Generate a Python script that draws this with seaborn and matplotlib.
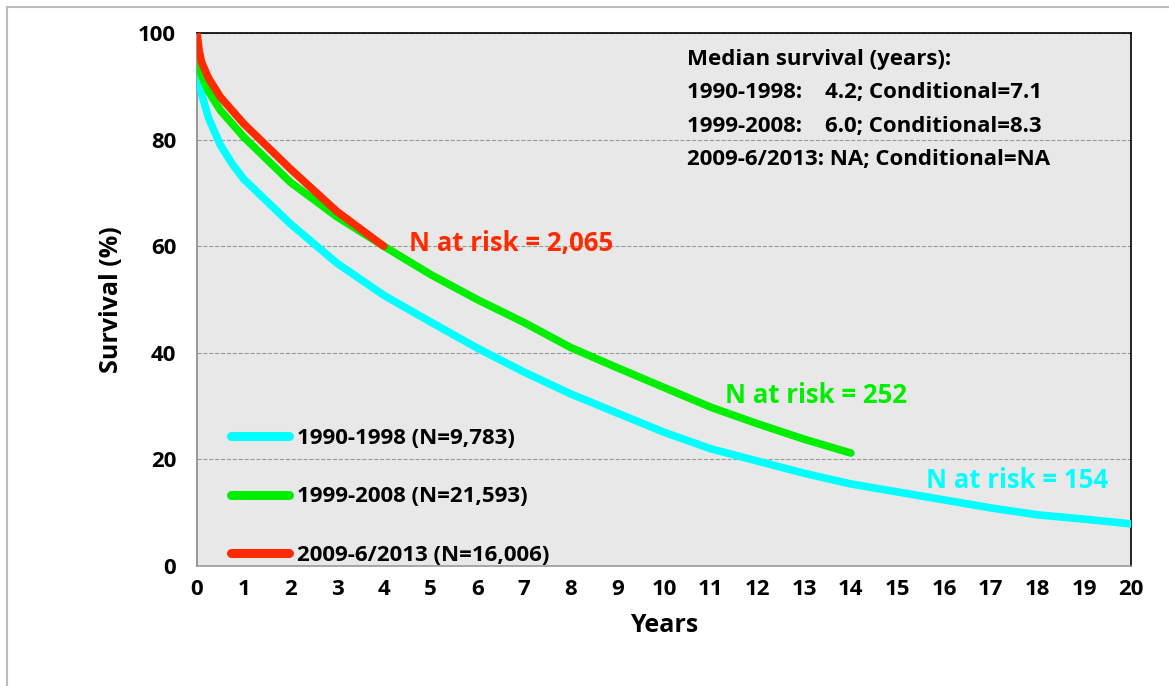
import matplotlib
matplotlib.use("Agg")
import matplotlib.pyplot as plt
import seaborn as sns
import pandas as pd
from matplotlib.patches import Rectangle

# survival curves (years, % surviving)
years_90 = [0, 0.1, 0.25, 0.5, 0.75, 1, 2, 3, 4, 5, 6, 7, 8, 9, 10, 11, 12, 13, 14, 15, 16, 17, 18, 19, 20]
surv_90 = [92, 88.5, 84, 79, 75.5, 72.6, 64.2, 56.8, 50.8, 45.8, 40.9, 36.4, 32.3, 28.7, 25.1, 22, 19.7, 17.4, 15.4, 13.9, 12.4, 10.9, 9.6, 8.8, 7.9]

years_99 = [0, 0.1, 0.25, 0.5, 0.75, 1, 2, 3, 4, 5, 6, 7, 8, 9, 10, 11, 12, 13, 14]
surv_99 = [95, 92, 89, 85.5, 83, 80.5, 72, 65.5, 60, 54.7, 50, 45.7, 41, 37.2, 33.5, 29.8, 26.7, 23.8, 21.2]

years_09 = [0, 0.05, 0.1, 0.25, 0.5, 0.75, 1, 2, 3, 4]
surv_09 = [100, 96.5, 94.5, 91.5, 88, 85.5, 83, 74.5, 66.5, 60]

labels = ["1990-1998 (N=9,783)", "1999-2008 (N=21,593)", "2009-6/2013 (N=16,006)"]
colors = ["#00FFFF", "#00EE00", "#FF2A00"]

median_lines = ["Median survival (years):",
                "1990-1998:    4.2; Conditional=7.1",
                "1999-2008:    6.0; Conditional=8.3",
                "2009-6/2013: NA; Conditional=NA"]

df = pd.concat([
    pd.DataFrame({"Years": years_90, "Survival": surv_90, "Era": labels[0]}),
    pd.DataFrame({"Years": years_99, "Survival": surv_99, "Era": labels[1]}),
    pd.DataFrame({"Years": years_09, "Survival": surv_09, "Era": labels[2]}),
])

sns.set_style("white")
plt.rcParams["font.family"] = ["Open Sans", "DejaVu Sans"]
plt.rcParams["font.weight"] = "bold"
plt.rcParams["text.color"] = "black"
plt.rcParams["axes.labelcolor"] = "black"

fig = plt.figure(figsize=(11.69, 6.86), dpi=100)
ax = fig.add_axes([0.1685, 0.1749, 0.799, 0.777])
ax.set_facecolor("#E8E8E8")

sns.lineplot(data=df, x="Years", y="Survival", hue="Era", palette=colors,
             linewidth=5.5, ax=ax, sort=True, estimator=None, zorder=3)
for ln in ax.get_lines():
    ln.set_solid_capstyle("round")

ax.set_xlim(0, 20)
ax.set_ylim(0, 100)
ax.set_xticks(range(0, 21))
ax.set_yticks(range(0, 101, 20))
ax.yaxis.grid(True, linestyle="--", color="#999999", linewidth=0.8)
ax.set_axisbelow(True)
ax.tick_params(axis="both", labelsize=16, length=6, width=1, color="#999999",
               labelcolor="black", direction="out")
ax.tick_params(axis="y", pad=9)
ax.tick_params(axis="x", pad=3)
for lab in ax.get_xticklabels() + ax.get_yticklabels():
    lab.set_fontweight("bold")

ax.set_xlabel("Years", fontsize=18, fontweight="bold", labelpad=10)
ax.set_ylabel("Survival (%)", fontsize=18, fontweight="bold", labelpad=10)

ax.spines["top"].set_color("black")
ax.spines["right"].set_color("black")
ax.spines["left"].set_color("#888888")
ax.spines["bottom"].set_color("#999999")
for s in ax.spines.values():
    s.set_linewidth(1.2)

leg = ax.legend(loc="lower left", bbox_to_anchor=(0.015, -0.037), frameon=False,
                labelspacing=1.68, handlelength=2.6, handletextpad=0.35,
                prop={"weight": "bold", "size": 16})
for ln in leg.get_lines():
    ln.set_linewidth(6.5)
    ln.set_solid_capstyle("round")
for t in leg.get_texts():
    t.set_color("black")

ax.text(4.55, 60.6, "N at risk = 2,065", color=colors[2], fontsize=18.5,
        fontweight="bold", va="center", ha="left")
ax.text(11.3, 31.9, "N at risk = 252", color=colors[1], fontsize=18.5,
        fontweight="bold", va="center", ha="left")
ax.text(15.6, 16.0, "N at risk = 154", color=colors[0], fontsize=18.5,
        fontweight="bold", va="center", ha="left")

for i, line in enumerate(median_lines):
    ax.text(10.5, 95.1 - i * 6.3, line, fontsize=16, fontweight="bold",
            va="center", ha="left", color="black")

fig.patches.append(Rectangle((7 / 1169, -0.1), 1.2, 1 - 7 / 686 + 0.1,
                             transform=fig.transFigure, fill=False,
                             edgecolor="#BBBBBB", linewidth=1.5))

fig.savefig("out.png", dpi=100)
